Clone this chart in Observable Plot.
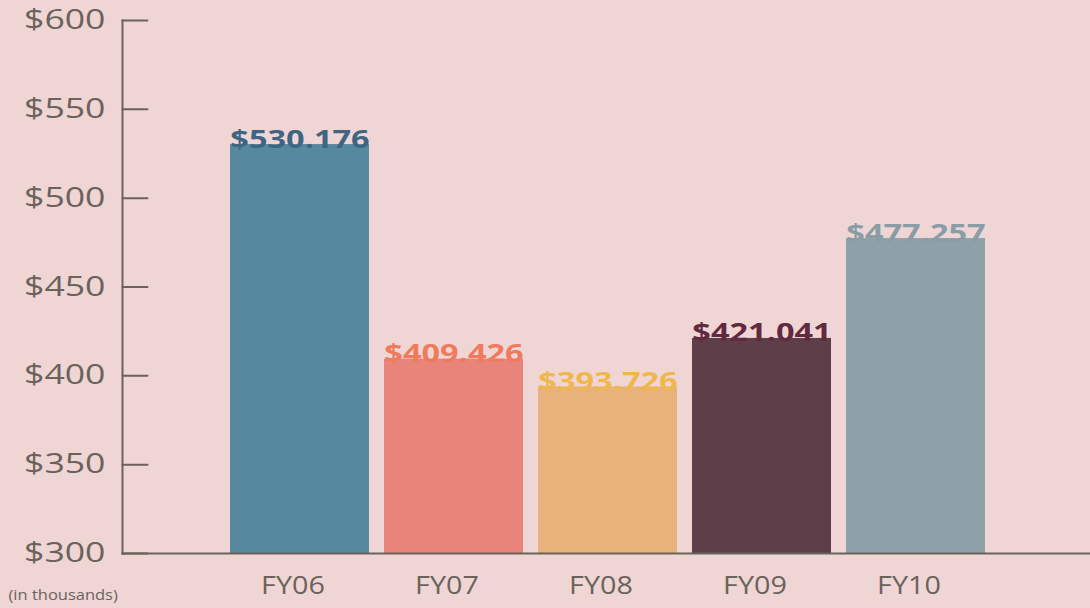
<!DOCTYPE html>
<html>
<head>
<meta charset="utf-8">
<script src="https://cdn.jsdelivr.net/npm/d3@7"></script>
<script src="https://cdn.jsdelivr.net/npm/@observablehq/plot@0.6"></script>
<style>
  html, body { margin: 0; padding: 0; background: #efd6d4; }
  #chart svg { display: block; background: #efd6d4; }
</style>
</head>
<body>
<div id="chart"></div>
<script>
const years = ["FY06", "FY07", "FY08", "FY09", "FY10"];
const values = [530.176, 409.426, 393.726, 421.041, 477.257];
const barColors = ["#56889e", "#e8847a", "#e7b37b", "#5e3f49", "#8da1a8"];
const labelColors = ["#3f6584", "#f07a5c", "#f1b64c", "#62293f", "#8a9da6"];
const yTicks = [300, 350, 400, 450, 500, 550, 600];
const unitNote = "(in thousands)";

const data = years.map((fy, i) => ({fy, value: values[i], bar: barColors[i], label: labelColors[i]}));
const ink = "#6b625b";
const line = {draw(context, l) { context.moveTo(0, 0); context.lineTo(0, -l); }};

const chart = Plot.plot({
  width: 1090,
  height: 608,
  marginLeft: 122,
  marginRight: 0,
  marginTop: 20,
  marginBottom: 55,
  style: {fontFamily: "'Open Sans', sans-serif", background: "#efd6d4", overflow: "visible"},
  x: {domain: years, range: [228, 987], paddingInner: 0.1, paddingOuter: 0},
  y: {domain: [300, 600]},
  marks: [
    Plot.barY(data, {x: "fy", y1: 300, y2: "value", fill: d => d.bar}),
    Plot.text(data, {
      x: "fy", y: "value", text: d => "$" + d.value.toFixed(3),
      fill: d => d.label, fontWeight: "bold", fontSize: 25,
      lineAnchor: "bottom", dy: 3
    }),
    Plot.frame({anchor: "left", stroke: ink, strokeWidth: 2}),
    Plot.frame({anchor: "bottom", stroke: ink, strokeWidth: 2}),
    Plot.vector(yTicks, {y: d => d, frameAnchor: "left", rotate: 90, length: 25, anchor: "start", shape: line, stroke: ink, strokeWidth: 2}),
    Plot.axisY({ticks: yTicks, tickFormat: d => "$" + d, tickSize: 0, tickPadding: 17, fontSize: 27, fill: ink, label: null}),
    Plot.axisX({tickSize: 0, tickPadding: 23, fontSize: 25, fill: ink, label: null, dx: -7}),
    Plot.text([unitNote], {frameAnchor: "bottom-left", dx: -114, dy: 46, textAnchor: "start", fontSize: 15, fill: ink})
  ]
});

function stretchEl(el, k) {
  const t = el.getAttribute("transform") || "";
  const xa = el.getAttribute("x");
  const ok = xa !== null && !isNaN(+xa);
  const x = ok ? +xa : 0;
  if (ok) el.removeAttribute("x");
  el.setAttribute("transform", `${t} translate(${x},0) scale(${k},1)`);
}
d3.select(chart).selectAll("text").each(function() {
  const s = this.textContent;
  if (/^\$\d+\.\d+$/.test(s)) stretchEl(this, 1.3);
  else if (/^\$\d+$/.test(s)) stretchEl(this, 1.32);
  else if (years.includes(s)) stretchEl(this, 1.15);
  else if (s === unitNote) stretchEl(this, 1.1);
});
document.getElementById("chart").appendChild(chart);
</script>
</body>
</html>
